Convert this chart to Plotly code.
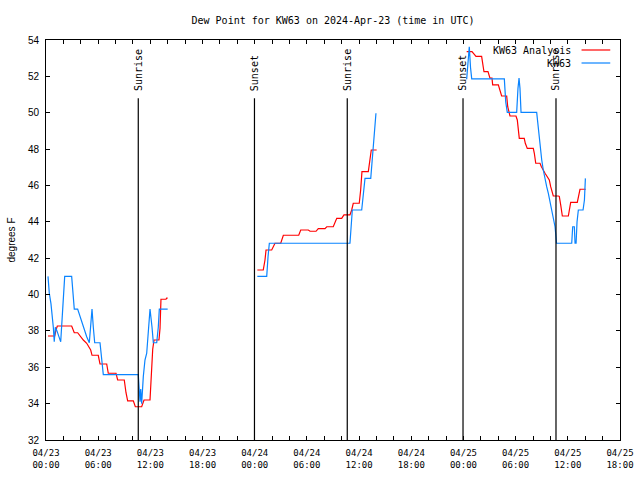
import pandas as pd
import plotly.graph_objects as go

# ---------------- data (hours after 2024-04-23 00:00 UTC, deg F) ----------------
base_time = "2024-04-23 00:00"

# KW63 Analysis (red)
ana_hours_1 = [0.23, 1.00, 1.15, 1.30, 2.95, 3.14, 3.25, 3.64, 3.91, 4.29, 4.68, 4.98, 5.14, 5.29,
               6.01, 6.21, 6.98, 7.16, 8.05, 8.24, 9.00, 9.20, 9.39, 10.04, 10.27, 11.00, 11.27,
               11.96, 12.15, 12.27, 12.42, 12.99, 13.11, 13.22, 13.80, 13.87, 13.99]
ana_dewpt_1 = [37.72, 37.72, 38.05, 38.27, 38.27, 38.05, 37.90, 37.90, 37.72, 37.50, 37.32, 37.10, 36.95, 36.66,
               36.66, 36.18, 36.18, 35.67, 35.67, 35.30, 35.30, 34.60, 34.15, 34.15, 33.83, 33.83, 34.20,
               34.20, 35.85, 36.99, 37.50, 37.50, 38.14, 39.74, 39.74, 39.80, 39.80]
ana_hours_2 = [24.30, 24.98, 25.18, 25.30, 25.95, 26.14, 26.33, 26.99, 27.14, 27.29, 29.06, 29.29, 30.16,
               30.36, 31.05, 31.31, 32.08, 32.28, 33.03, 33.43, 34.00, 34.26, 34.95, 35.15, 35.33, 36.02,
               36.18, 36.33, 37.06, 37.25, 37.40, 38.02]
ana_dewpt_2 = [41.35, 41.35, 41.90, 42.45, 42.45, 42.63, 42.82, 42.82, 43.00, 43.26, 43.26, 43.55, 43.55,
               43.48, 43.48, 43.63, 43.63, 43.73, 43.73, 44.19, 44.19, 44.38, 44.38, 44.65, 45.02, 45.02,
               45.75, 46.76, 46.76, 47.40, 47.95, 47.95]
ana_hours_3 = [48.37, 48.98, 49.44, 50.09, 50.28, 50.36, 50.82, 51.05, 51.28, 51.36, 52.01, 52.20, 52.39,
               52.97, 53.09, 53.35, 54.04, 54.19, 54.33, 54.42, 54.99, 55.11, 55.34, 56.03, 56.15, 56.31,
               56.80, 56.95, 57.38, 57.64, 57.87, 58.03, 58.18, 58.33, 58.91, 59.02, 59.18, 59.37, 60.06,
               60.17, 60.33, 61.09, 61.21, 61.40, 62.06]
ana_dewpt_3 = [53.36, 53.36, 53.10, 53.10, 52.50, 52.26, 52.26, 51.90, 51.90, 51.53, 51.53, 51.20, 50.92,
               50.92, 50.33, 49.82, 49.82, 49.60, 49.10, 48.59, 48.59, 48.32, 48.04, 48.04, 47.77, 47.22,
               47.22, 47.04, 46.67, 46.49, 46.30, 45.93, 45.57, 45.42, 45.42, 45.40, 44.93, 44.32, 44.32,
               44.65, 45.07, 45.07, 45.39, 45.79, 45.79]

# KW63 observations (blue)
obs_hours_1 = [0.23, 0.38, 0.57, 0.72, 0.84, 0.95, 1.07, 1.26, 1.69, 1.92, 2.04, 2.15, 2.95, 3.07, 3.22,
               3.25, 3.64, 3.91, 4.29, 4.68, 4.98, 5.14, 5.29, 5.44, 5.60, 6.21, 6.36, 6.52, 6.59, 10.61,
               10.70, 10.81, 10.89, 11.00, 11.19, 11.38, 11.58, 11.76, 11.96, 12.19, 12.34, 12.73, 12.91,
               13.03, 13.99]
obs_dewpt_1 = [41.0, 40.07, 39.5, 38.9, 38.2, 37.4, 38.2, 38.0, 37.4, 39.2, 40.4, 41.0, 41.0, 40.07, 39.5,
               39.2, 39.2, 38.78, 38.2, 37.68, 37.35, 38.2, 39.2, 38.2, 37.35, 37.35, 36.58, 36.03, 35.6, 35.6,
               35.0, 34.1, 34.8, 34.0, 35.5, 36.4, 36.77, 38.2, 39.2, 38.2, 37.35, 37.35, 38.2,
               39.2, 39.2]
obs_hours_2 = [24.30, 25.38, 25.53, 25.68, 34.95, 35.22, 36.30, 36.48, 36.68, 37.34, 37.45, 37.56, 37.71,
               37.83, 37.94]
obs_dewpt_2 = [41.0, 41.0, 42.08, 42.82, 42.82, 44.65, 44.65, 45.57, 46.39, 46.39, 47.04, 47.77, 48.5,
               49.23, 49.97]
obs_hours_3 = [48.37, 48.55, 48.67, 48.81, 48.95, 52.70, 52.86, 53.04, 54.12, 54.27, 54.39, 54.50, 54.62,
               56.42, 56.54, 56.69, 56.80, 57.00, 57.18, 57.38, 57.57, 57.76, 57.95, 58.15, 58.33, 58.45,
               58.53, 58.64, 58.70, 60.45, 60.56, 60.75, 60.83, 60.95, 61.06, 61.21, 61.75, 61.91, 62.02]
obs_dewpt_3 = [51.84, 52.8, 53.63, 52.5, 51.86, 51.86, 50.6, 50.02, 50.02, 51.34, 51.9, 51.34, 50.02,
               50.02, 49.42, 48.69, 48.04, 47.4, 46.85, 46.3, 45.93, 45.57, 45.11, 44.74, 44.32, 44.0,
               43.73, 43.18, 42.82, 42.82, 43.73, 43.73, 42.82, 42.82, 44.0, 44.65, 44.65, 45.2, 46.39]

# Sun events
event_hours = [10.61, 23.97, 34.64, 47.95, 58.64]
event_names = ["Sunrise", "Sunset", "Sunrise", "Sunset", "Sunrise"]
event_line_top = 50.8

# Axis ticks
tick_hours = list(range(0, 67, 2))
label_hours = [0, 6, 12, 18, 24, 30, 36, 42, 48, 54, 60, 66]
label_texts = ["04/23<br>00:00", "04/23<br>06:00", "04/23<br>12:00", "04/23<br>18:00",
               "04/24<br>00:00", "04/24<br>06:00", "04/24<br>12:00", "04/24<br>18:00",
               "04/25<br>00:00", "04/25<br>06:00", "04/25<br>12:00", "04/25<br>18:00"]
y_min, y_max = 32, 54

# ---------------- build ----------------
t0 = pd.Timestamp(base_time)


def to_time(hours):
    return [t0 + pd.Timedelta(hours=h) for h in hours]


def join_segments(hour_lists, value_lists):
    xs, ys = [], []
    for i, (hs, vs) in enumerate(zip(hour_lists, value_lists)):
        if i > 0:
            xs.append(None)
            ys.append(None)
        xs.extend(to_time(hs))
        ys.extend(vs)
    return xs, ys


ana_x, ana_y = join_segments([ana_hours_1, ana_hours_2, ana_hours_3],
                             [ana_dewpt_1, ana_dewpt_2, ana_dewpt_3])
obs_x, obs_y = join_segments([obs_hours_1, obs_hours_2, obs_hours_3],
                             [obs_dewpt_1, obs_dewpt_2, obs_dewpt_3])

RED = "#ff0000"
BLUE = "#0a84ff"
MONO = "DejaVu Sans Mono"
SANS = "Liberation Sans"

fig = go.Figure()
fig.add_trace(go.Scatter(x=ana_x, y=ana_y, mode="lines", name="KW63 Analysis",
                         line=dict(color=RED, width=1.2), connectgaps=False))
fig.add_trace(go.Scatter(x=obs_x, y=obs_y, mode="lines", name="KW63",
                         line=dict(color=BLUE, width=1.2), connectgaps=False))

shapes = []
annotations = []
for h, name in zip(event_hours, event_names):
    t = t0 + pd.Timedelta(hours=h)
    shapes.append(dict(type="line", xref="x", yref="y", x0=t, x1=t, y0=y_min, y1=event_line_top,
                       line=dict(color="black", width=1.2), layer="above"))
    annotations.append(dict(x=t, y=event_line_top + 0.3, xref="x", yref="y", text=name,
                            textangle=-90, showarrow=False, xanchor="center", yanchor="bottom",
                            font=dict(family=MONO, size=10, color="black")))

# gnuplot-style legend: text right-aligned, sample line on the right
legend_items = [("KW63 Analysis", RED, 0.975), ("KW63", BLUE, 0.9425)]
for text, color, ypos in legend_items:
    annotations.append(dict(x=0.918, y=ypos, xref="paper", yref="paper", text=text, showarrow=False,
                            xanchor="right", yanchor="middle",
                            font=dict(family=MONO, size=10, color="black")))
    shapes.append(dict(type="line", xref="paper", yref="paper", x0=0.933, x1=0.983, y0=ypos, y1=ypos,
                       line=dict(color=color, width=1.2)))

fig.update_layout(
    width=640, height=480,
    margin=dict(l=46, r=20, t=40, b=40, autoexpand=False),
    paper_bgcolor="white", plot_bgcolor="white",
    showlegend=False,
    title=dict(text="Dew Point for KW63 on 2024-Apr-23 (time in UTC)", x=333 / 640,
               xanchor="center", y=1 - 20 / 480, yanchor="middle",
               font=dict(family=MONO, size=10, color="black")),
    shapes=shapes, annotations=annotations,
)

tick_vals = to_time(tick_hours)
tick_text = [label_texts[label_hours.index(h)] if h in label_hours else "" for h in tick_hours]
fig.update_xaxes(
    type="date", range=[t0, t0 + pd.Timedelta(hours=66)],
    tickmode="array", tickvals=tick_vals, ticktext=tick_text,
    ticks="inside", ticklen=4, tickcolor="black", tickwidth=1,
    showline=True, linecolor="black", linewidth=1, mirror="ticks",
    showgrid=False, zeroline=False, ticklabelstandoff=4,
    tickfont=dict(family=MONO, size=9, color="black"),
)
fig.update_yaxes(
    range=[y_min, y_max], tickmode="linear", tick0=32, dtick=2,
    ticks="inside", ticklen=4, tickcolor="black", tickwidth=1,
    showline=True, linecolor="black", linewidth=1, mirror="ticks",
    showgrid=False, zeroline=False, ticklabelstandoff=4,
    tickfont=dict(family=SANS, size=10, color="black"),
    title=dict(text="degrees F", font=dict(family=SANS, size=10, color="black"), standoff=10),
)

fig.write_html("out.html", config={"displayModeBar": False},
               post_script="document.body.style.margin='0';")
